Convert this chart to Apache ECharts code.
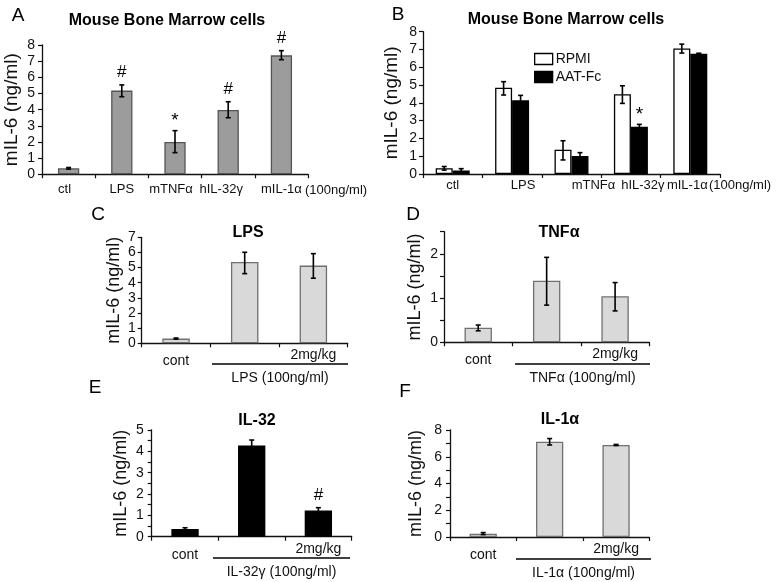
<!DOCTYPE html>
<html><head><meta charset="utf-8">
<script src="https://cdn.jsdelivr.net/npm/echarts@6/dist/echarts.min.js"></script>
<style>html,body{margin:0;padding:0;background:#fff}#c{width:782px;height:582px}</style>
</head><body><div id="c"></div>
<script>
// ---------- data ----------
const catsAB = ['ctl', 'LPS', 'mTNFα', 'hIL-32γ', 'mIL-1α'];
const catsCF = ['cont', '', '2mg/kg'];
const yName = 'mIL-6 (ng/ml)';

// Panel A
const valsA = [0.37, 5.18, 2.00, 3.98, 7.36];
const loA   = [0.32, 4.80, 1.34, 3.50, 7.09];
const hiA   = [0.42, 5.53, 2.70, 4.49, 7.65];
const markA = ['', '#', '*', '#', '#'];

// Panel B
const seriesNamesB = ['RPMI', 'AAT-Fc'];
const rpmiB   = [0.32, 4.85, 1.37, 4.48, 7.06];
const rpmiLoB = [0.22, 4.44, 0.79, 3.97, 6.80];
const rpmiHiB = [0.42, 5.19, 1.87, 4.96, 7.30];
const aatB    = [0.19, 4.14, 1.01, 2.66, 6.76];
const aatLoB  = [0.04, 3.88, 0.80, 2.53, 6.73];
const aatHiB  = [0.30, 4.42, 1.20, 2.79, 6.79];
const markAatB = ['', '', '', '*', ''];

// Panel C (LPS)
const valsC = [0.31, 5.37, 5.13];
const loC   = [0.27, 4.60, 4.30];
const hiC   = [0.35, 6.01, 5.92];
// Panel D (TNFα)
const valsD = [0.33, 1.39, 1.04];
const loD   = [0.26, 0.84, 0.71];
const hiD   = [0.39, 1.92, 1.35];
// Panel E (IL-32)
const valsE = [0.36, 4.27, 1.23];
const loE   = [0.31, 4.00, 1.09];
const hiE   = [0.42, 4.53, 1.36];
const markE = ['', '', '#'];
// Panel F (IL-1α)
const valsF = [0.25, 7.13, 6.88];
const loF   = [0.18, 6.88, 6.84];
const hiF   = [0.33, 7.36, 6.92];

const titles = ['Mouse Bone Marrow cells', 'Mouse Bone Marrow cells', 'LPS', 'TNFα', 'IL-32', 'IL-1α'];
const letters = ['A', 'B', 'C', 'D', 'E', 'F'];
const groupLabels = ['LPS (100ng/ml)', 'TNFα (100ng/ml)', 'IL-32γ (100ng/ml)', 'IL-1α (100ng/ml)'];
const concNote = '(100ng/ml)';

// ---------- layout / style ----------
const FONT = '"Liberation Sans", Arial, Helvetica, sans-serif';
const INK = '#111';
const grids = [
  {left: 42,    top: 45,    width: 266,   height: 129.3},
  {left: 423,   top: 31.7,  width: 297,   height: 142.3},
  {left: 141.7, top: 237.3, width: 206,   height: 106},
  {left: 444,   top: 231.7, width: 205.3, height: 110.6},
  {left: 151.7, top: 430,   width: 200,   height: 106.7},
  {left: 450,   top: 430,   width: 199.3, height: 107}
];
const yCfg = [
  {max: 8,   interval: 1,   fmt: v => v,                          margin: 7, nameGap: 21, nameSize: 19},
  {max: 8,   interval: 1,   fmt: v => v,                          margin: 6, nameGap: 22, nameSize: 19},
  {max: 7,   interval: 1,   fmt: v => v,                          margin: 6, nameGap: 19, nameSize: 18},
  {max: 2.5, interval: 0.5, fmt: v => Number.isInteger(v) ? v : '', margin: 6, nameGap: 20, nameSize: 18},
  {max: 5,   interval: 0.5, fmt: v => Number.isInteger(v) ? v : '', margin: 8, nameGap: 22, nameSize: 18},
  {max: 8,   interval: 1,   fmt: v => (v % 2 === 0) ? v : '',     margin: 8, nameGap: 25, nameSize: 18}
];
const shiftsA = [-4, 0, -4, -7, 0];
const shiftsB = [0, 11, 22, 12, -3];
const titlePos = [[167, 21], [566, 20], [248, 233], [559, 233], [257, 421], [560, 420]];
const letterPos = [[18, 16], [398, 15], [98, 215], [413, 215], [95, 388], [405, 392]];
const groupLines = [[212, 348, 364], [515, 650, 364], [213, 350, 558], [516, 651, 559]];

const axisLine = {show: true, lineStyle: {color: INK, width: 1.3}};
const axisTick = {show: true, length: 4, lineStyle: {color: INK, width: 1.2}};

function shiftedLabel(shifts, size, margin) {
  const rich = {};
  shifts.forEach((s, i) => {
    rich['s' + i] = {fontSize: size, fontFamily: FONT, color: INK,
      padding: s >= 0 ? [0, 0, 0, 2 * s] : [0, -2 * s, 0, 0]};
  });
  return {interval: 0, margin, fontSize: size, fontFamily: FONT, color: INK,
    formatter: (v, i) => '{s' + i + '|' + v + '}', rich};
}
function cfLabel() {
  return {interval: 0, margin: 5, fontSize: 14, fontFamily: FONT, color: INK,
    formatter: (v, i) => i === 0 ? '{c|' + v + '}' : v,
    rich: {c: {fontSize: 14, fontFamily: FONT, color: INK, padding: [6, 0, 0, 0]}}};
}

const xAxes = grids.map((g, i) => ({
  type: 'category', gridIndex: i, boundaryGap: true,
  data: i < 2 ? catsAB : catsCF,
  axisLine, axisTick: Object.assign({interval: 0}, axisTick),
  axisLabel: i === 0 ? shiftedLabel(shiftsA, 13, 9) : i === 1 ? shiftedLabel(shiftsB, 13, 5) : cfLabel()
}));
const yAxes = grids.map((g, i) => ({
  type: 'value', gridIndex: i, min: 0, max: yCfg[i].max, interval: yCfg[i].interval,
  splitLine: {show: false}, axisLine, axisTick,
  axisLabel: {fontSize: 14, fontFamily: FONT, color: INK, margin: yCfg[i].margin, formatter: yCfg[i].fmt},
  name: yName, nameLocation: 'middle', nameGap: yCfg[i].nameGap,
  nameTextStyle: {fontSize: yCfg[i].nameSize, fontFamily: FONT, color: INK}
}));

function bar(gi, data, color, border, width, name) {
  return {type: 'bar', name, xAxisIndex: gi, yAxisIndex: gi, data, barWidth: width, barGap: '0%',
    itemStyle: {color, borderColor: border, borderWidth: 1.3}, silent: true, z: 2};
}
function err(gi, lo, hi, marks, offFrac) {
  return {type: 'custom', xAxisIndex: gi, yAxisIndex: gi, z: 5, silent: true,
    data: lo.map((l, i) => [i, l, hi[i]]),
    renderItem: (params, api) => {
      const i = api.value(0);
      const band = api.size([1, 0])[0];
      const pHi = api.coord([i, api.value(2)]);
      const pLo = api.coord([i, api.value(1)]);
      const x = pHi[0] + band * (offFrac || 0);
      const cw = 2.5, st = {stroke: '#000', lineWidth: 1.6};
      const ch = [
        {type: 'line', shape: {x1: x, y1: pHi[1], x2: x, y2: pLo[1]}, style: st},
        {type: 'line', shape: {x1: x - cw, y1: pHi[1], x2: x + cw, y2: pHi[1]}, style: st},
        {type: 'line', shape: {x1: x - cw, y1: pLo[1], x2: x + cw, y2: pLo[1]}, style: st}
      ];
      const m = marks ? marks[params.dataIndex] : '';
      if (m) ch.push({type: 'text', style: {text: m, x: x, y: pHi[1] - (m === '*' ? 0 : 4),
        align: 'center', verticalAlign: 'bottom', fontSize: m === '*' ? 19 : 17, fontFamily: FONT, fill: '#000'}});
      return {type: 'group', children: ch};
    }};
}

const GRAY_A = '#9c9c9c', GRAY_L = '#d9d9d9';
const series = [
  bar(0, valsA, GRAY_A, '#555', '40%'), err(0, loA, hiA, markA, 0),
  bar(1, rpmiB, '#fff', '#000', '28.6%', seriesNamesB[0]), bar(1, aatB, '#000', '#000', '28.6%', seriesNamesB[1]),
  err(1, rpmiLoB, rpmiHiB, null, -0.143), err(1, aatLoB, aatHiB, markAatB, 0.143),
  bar(2, valsC, GRAY_L, '#707070', '40%'), err(2, loC, hiC, null, 0),
  bar(3, valsD, GRAY_L, '#707070', '40%'), err(3, loD, hiD, null, 0),
  bar(4, valsE, '#000', '#000', '41%'), err(4, loE, hiE, markE, 0),
  bar(5, valsF, GRAY_L, '#707070', '41%'), err(5, loF, hiF, null, 0)
];

const graphic = [];
titles.forEach((t, i) => graphic.push({type: 'text', silent: true,
  style: {text: t, x: titlePos[i][0], y: titlePos[i][1], align: 'center', verticalAlign: 'middle',
    fontSize: 16, fontWeight: 'bold', fontFamily: FONT, fill: '#000'}}));
letters.forEach((t, i) => graphic.push({type: 'text', silent: true,
  style: {text: t, x: letterPos[i][0], y: letterPos[i][1], align: 'center', verticalAlign: 'middle',
    fontSize: 19, fontFamily: FONT, fill: '#000'}}));
groupLines.forEach((l, i) => {
  graphic.push({type: 'line', silent: true, shape: {x1: l[0], y1: l[2], x2: l[1], y2: l[2]},
    style: {stroke: '#000', lineWidth: 1.3}});
  graphic.push({type: 'text', silent: true,
    style: {text: groupLabels[i], x: (l[0] + l[1]) / 2, y: l[2] + 14, align: 'center', verticalAlign: 'middle',
      fontSize: 14, fontFamily: FONT, fill: INK}});
});
graphic.push({type: 'text', silent: true, style: {text: concNote, x: 305, y: 190, align: 'left', verticalAlign: 'middle', fontSize: 13, fontFamily: FONT, fill: INK}});
graphic.push({type: 'text', silent: true, style: {text: concNote, x: 709, y: 185, align: 'left', verticalAlign: 'middle', fontSize: 13, fontFamily: FONT, fill: INK}});

const chart = echarts.init(document.getElementById('c'), null, {renderer: 'canvas'});
chart.setOption({
  animation: false,
  backgroundColor: '#fff',
  grid: grids.map(g => Object.assign({containLabel: false}, g)),
  xAxis: xAxes, yAxis: yAxes, series, graphic,
  legend: {data: seriesNamesB, orient: 'vertical', left: 534, top: 52, padding: 0, icon: 'rect',
    itemWidth: 18, itemHeight: 11, itemGap: 4, itemStyle: {borderColor: '#000', borderWidth: 1.3},
    selectedMode: false,
    textStyle: {fontSize: 14, fontFamily: FONT, color: INK, padding: [0, 0, 0, -2]}}
});
</script></body></html>
